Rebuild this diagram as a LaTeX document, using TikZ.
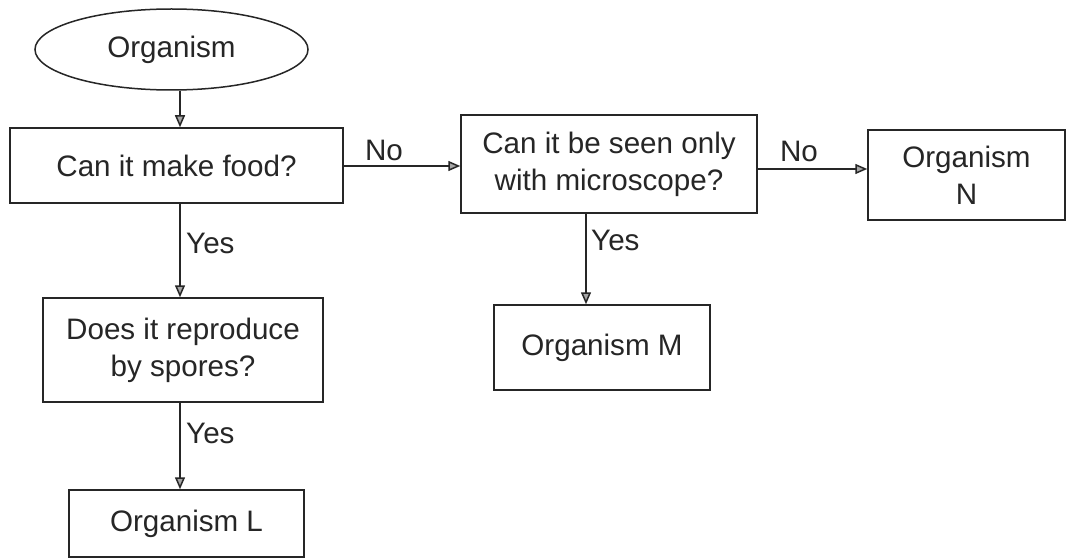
\documentclass[tikz,border=0pt]{standalone}
\usepackage{fontspec}
\setmainfont{Liberation Sans}
\usetikzlibrary{shapes.geometric,arrows.meta}
\definecolor{ink}{HTML}{262626}
\begin{document}
\begin{tikzpicture}[x=1pt,y=-1pt,
  font=\fontsize{29.6}{37}\selectfont, text=ink,
  box/.style={draw=ink, line width=1.5pt, rectangle, inner sep=0pt, align=center},
  arr/.style={draw=ink, line width=1.5pt, -{Triangle[length=12pt,width=10pt,fill=gray!70]}},
  lbl/.style={inner sep=0pt}]
\useasboundingbox (0,0) rectangle (1066,559);
\fill[white] (0,0) rectangle (1066,559);
% nodes
\node[ellipse, draw=ink, line width=1.5pt, minimum width=273pt, minimum height=81pt, inner sep=0pt] (org) at (171.5,49.5) {Organism};
\node[box, minimum width=333pt, minimum height=75pt] (q1) at (176.5,165.5) {Can it make food?};
\node[box, minimum width=296pt, minimum height=98pt] (q2) at (609,164) {Can it be seen only\\with microscope?};
\node[box, minimum width=197pt, minimum height=90pt] (n) at (966.5,175) {Organism\\N};
\node[box, minimum width=216pt, minimum height=85pt] (m) at (602,347.5) {Organism M};
\node[box, minimum width=280pt, minimum height=104pt] (q3) at (183,350) {Does it reproduce\\by spores?};
\node[box, minimum width=235pt, minimum height=67pt] (l) at (186.5,523.5) {Organism L};
% helper coordinates
\coordinate (xa) at (180,0);
\coordinate (xb) at (586,0);
\coordinate (ya) at (0,166);
\coordinate (yb) at (0,169);
% connectors
\draw[arr] (org.south -| xa) -- (q1.north -| xa);
\draw[arr] (q1.east |- ya) -- (q2.west |- ya);
\draw[arr] (q2.east |- yb) -- (n.west |- yb);
\draw[arr] (q2.south -| xb) -- (m.north -| xb);
\draw[arr] (q1.south -| xa) -- (q3.north -| xa);
\draw[arr] (q3.south -| xa) -- (l.north -| xa);
% labels
\node[lbl] (no1) at (384,150) {No};
\node[lbl] (no2) at (799,151) {No};
\node[lbl, anchor=west] (yes1) at (186,243) {Yes};
\node[lbl, anchor=west] (yes2) at (591,240) {Yes};
\node[lbl, anchor=west] (yes3) at (186,433) {Yes};
\end{tikzpicture}
\end{document}
